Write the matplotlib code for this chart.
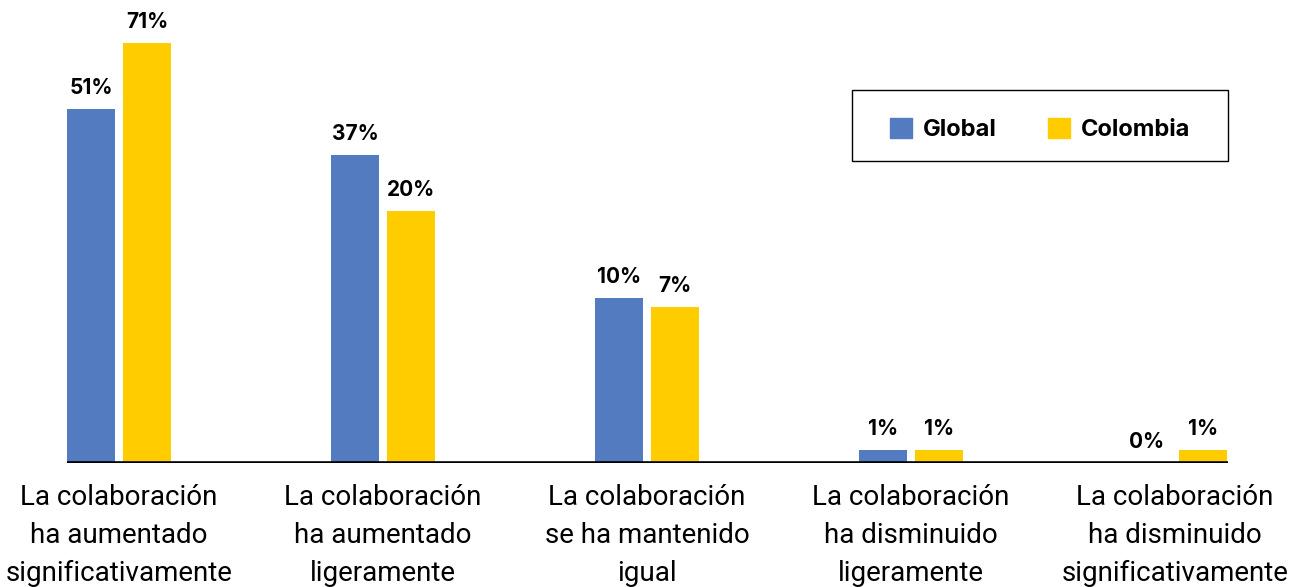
import numpy as np
import matplotlib
matplotlib.use("Agg")
import matplotlib.pyplot as plt
from matplotlib.patches import Patch, Rectangle

categories = [
    "La colaboración\nha aumentado\nsignificativamente",
    "La colaboración\nha aumentado\nligeramente",
    "La colaboración\nse ha mantenido\nigual",
    "La colaboración\nha disminuido\nligeramente",
    "La colaboración\nha disminuido\nsignificativamente",
]
series_names = ["Global", "Colombia"]
# percentages shown as labels
global_pct = [51, 37, 10, 1, 0]
colombia_pct = [71, 20, 7, 1, 1]
# bar heights as drawn in the picture (not proportional to labels)
global_heights = [59.8, 52.1, 27.9, 2.2, 0.0]
colombia_heights = [71.0, 42.6, 26.4, 2.2, 2.2]

BLUE = "#537BC0"
YELLOW = "#FFCC00"

W, H = 1301, 587
fig = plt.figure(figsize=(W / 100, H / 100), dpi=100)
base_px = 463
ax = fig.add_axes([0, (H - base_px) / H, 1, base_px / H])

spacing = 264.0
c0 = 119.0
ax.set_xlim(-c0 / spacing, (W - c0) / spacing)
ax.set_ylim(0, 71.0 * base_px / 420.0)
ax.axis("off")

x = np.arange(len(categories))
bw = 48 / spacing
off = 28 / spacing
b1 = ax.bar(x - off, global_heights, bw, color=BLUE, zorder=2)
b2 = ax.bar(x + off, colombia_heights, bw, color=YELLOW, zorder=2)

ax.hlines(0, (67 - c0) / spacing, (1228 - c0) / spacing, color="black", lw=2.6, zorder=3)

lab_font = dict(family=["Inter", "DejaVu Sans"], fontweight="bold", fontsize=15)
for bars, pct in ((b1, global_pct), (b2, colombia_pct)):
    for r, p in zip(bars, pct):
        ax.annotate(f"{p}%", (r.get_x() + r.get_width() / 2, r.get_height()),
                    xytext=(0, 11), textcoords="offset pixels",
                    ha="center", va="bottom", **lab_font)

for xi, cat in zip(x, categories):
    ax.annotate(cat, (xi, 0), xytext=(0, -21), textcoords="offset pixels",
                ha="center", va="top", fontsize=20, family=["Roboto", "DejaVu Sans"],
                fontweight="normal", linespacing=1.53, annotation_clip=False)

# legend frame
fig.patches.append(Rectangle((852 / W, 1 - 161 / H), 376 / W, 71 / H,
                             transform=fig.transFigure, fill=False,
                             edgecolor="black", lw=1.0))
handles = [Patch(color=BLUE, label=series_names[0]), Patch(color=YELLOW, label=series_names[1])]
leg = fig.legend(handles=handles, ncol=2, loc="center",
                 bbox_to_anchor=((852 + 1228) / 2 / W, 1 - (94 + 165) / 2 / H),
                 frameon=False,
                 prop=dict(family=["Inter", "DejaVu Sans"], weight="bold", size=17),
                 handlelength=0.93, handleheight=0.93, handletextpad=0.47,
                 columnspacing=2.16, borderpad=0, borderaxespad=0)

fig.savefig("out.png", dpi=100)
